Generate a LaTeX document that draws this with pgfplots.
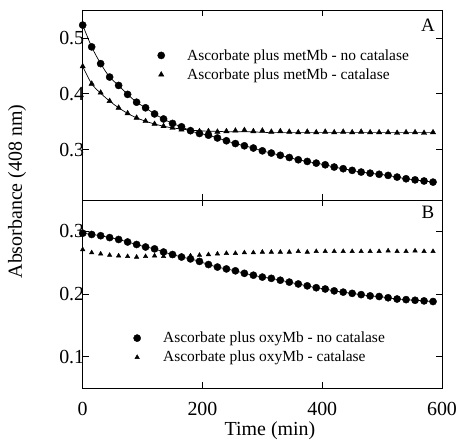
\documentclass[border=0pt]{standalone}
\usepackage{pgfplots}
\pgfplotsset{compat=1.18}
\usepackage{pgfplotstable}
\usepackage{fontspec}
\setmainfont{Liberation Serif}

% t = time (min); metA/metB = metMb without/with catalase; oxyA/oxyB = oxyMb without/with catalase
\pgfplotstableread{
t   metA  metB  metBfit oxyA  oxyB
0   .523  .449  .449    .297  .271
15  .484  .418  .418    .295  .266
30  .454  .402  .401    .293  .264
45  .430  .387  .387    .290  .262
60  .415  .375  .375    .287  .261
75  .399  .365  .365    .283  .260
90  .385  .357  .357    .279  .259
105 .375  .351  .351    .275  .260
120 .364  .346  .346    .272  .261
135 .355  .342  .342    .267  .260
150 .347  .339  .339    .263  .261
165 .341  .336  .337    .259  .260
180 .334  .335  .335    .256  .261
195 .329  .333  .334    .252  .262
210 .326  .333  .333    .247  .263
225 .321  .332  .333    .243  .264
240 .316  .333  .332    .240  .265
255 .311  .334  .332    .237  .265
270 .307  .335  .332    .233  .266
285 .303  .333  .332    .230  .266
300 .298  .334  .331    .227  .267
315 .294  .332  .331    .225  .267
330 .290  .333  .331    .222  .267
345 .286  .332  .331    .219  .267
360 .282  .331  .331    .216  .268
375 .279  .332  .331    .213  .267
390 .276  .331  .331    .210  .268
405 .273  .332  .331    .208  .268
420 .269  .331  .331    .205  .268
435 .266  .332  .331    .203  .268
450 .263  .331  .331    .201  .268
465 .260  .332  .331    .199  .268
480 .258  .331  .331    .197  .268
495 .256  .331  .331    .196  .268
510 .254  .331  .331    .194  .269
525 .251  .330  .331    .192  .268
540 .248  .331  .331    .191  .268
555 .246  .331  .331    .190  .269
570 .244  .330  .331    .189  .268
585 .242  .331  .331    .188  .268
}\data

\begin{document}
\begin{tikzpicture}
\useasboundingbox (-82.7bp,-55bp) rectangle (374.3bp,388bp);
\pgfplotsset{
  panel/.style={
    width=359.3bp, scale only axis,
    xmin=0, xmax=600, xtick={0,200,400,600},
    tick align=inside, major tick length=6bp,
    axis line style={line width=0.8pt},
    every tick/.style={black, line width=0.8pt},
    ticklabel style={font=\fontsize{20}{24}\selectfont},
    /pgf/number format/assume math mode=true,
    yticklabel style={xshift=5bp, /pgf/number format/.cd, fixed, fixed zerofill, precision=1},
    xticklabel style={yshift=-11bp},
    legend style={draw=none, fill=none, font=\fontsize{15.5}{18}\selectfont, row sep=3pt},
    legend cell align=left,
    legend image code/.code={\path[draw=none, fill=none] (0bp,0bp) -- (30bp,0bp); \draw[##1] plot coordinates {(6bp,0bp)};},
  },
  circ/.style={only marks, mark=*, mark size=3.6pt, black},
  tri/.style={only marks, mark=triangle*, mark size=3.1pt, black},
}
% top panel
\begin{axis}[panel, at={(0,188bp)}, anchor=south west, height=190bp,
  ymin=0.21, ymax=0.55, ytick={0.3,0.4,0.5}, xticklabels={},
  legend style={at={(0.193,0.815)}, anchor=north west}]
\addplot[black, line width=0.7pt, smooth, forget plot] table[x=t, y=metA] {\data};
\addplot[black, line width=0.7pt, smooth, forget plot] table[x=t, y=metBfit] {\data};
\addplot[circ] table[x=t, y=metA] {\data};
\addplot[tri] table[x=t, y=metB] {\data};
\legend{Ascorbate plus metMb - no catalase, Ascorbate plus metMb - catalase}
\node[font=\fontsize{19}{22}\selectfont] at (rel axis cs:0.961,0.92) {A};
\end{axis}
% bottom panel
\begin{axis}[panel, at={(0,0)}, anchor=south west, height=188bp,
  ymin=0.05, ymax=0.35, ytick={0.1,0.2,0.3},
  legend style={at={(0.126,0.32)}, anchor=north west}]
\addplot[black, line width=0.7pt, smooth, forget plot] table[x=t, y=oxyA] {\data};
\addplot[circ] table[x=t, y=oxyA] {\data};
\addplot[tri, mark size=2.6pt] table[x=t, y=oxyB] {\data};
\legend{Ascorbate plus oxyMb - no catalase, Ascorbate plus oxyMb - catalase}
\node[font=\fontsize{19}{22}\selectfont] at (rel axis cs:0.961,0.936) {B};
\end{axis}
\node[rotate=90, font=\fontsize{20}{24}\selectfont] at (-65.7bp,196.5bp) {Absorbance (408 nm)};
\node[font=\fontsize{20}{24}\selectfont] at (187.3bp,-43bp) {Time (min)};
\end{tikzpicture}
\end{document}
